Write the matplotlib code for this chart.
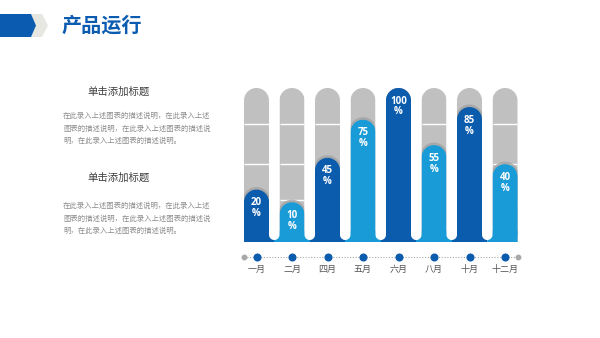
import numpy as np
import matplotlib
matplotlib.use("Agg")
import matplotlib.pyplot as plt
from matplotlib.path import Path
from matplotlib.patches import PathPatch, Polygon

plt.rcParams['font.family'] = ['Noto Sans CJK SC', 'DejaVu Sans']

# ---- data ----
months = ["一月", "二月", "四月", "五月", "六月", "八月", "十月", "十二月"]
values = [20, 10, 45, 75, 100, 55, 85, 40]
grid_levels = [72, 40, 12]

title = "产品运行"
sub_title = "单击添加标题"
body_lines = ["在此录入上述图表的描述说明，在此录入上述",
              "图表的描述说明，在此录入上述图表的描述说",
              "明，在此录入上述图表的描述说明。"]

# ---- style ----
DARK = "#0b5cad"
LIGHT = "#199bd7"
GRAY = "#c0c0c0"
SHADOW = "#a2a2a2"
TITLE_BLUE = "#0b5cb0"
TXT_GRAY = "#8c8c8c"

W, H = 600, 338
fig = plt.figure(figsize=(W / 100, H / 100), dpi=100)
fig.patch.set_facecolor("white")

# background axes in pixel units for header and side text
bg = fig.add_axes([0, 0, 1, 1])
bg.set_xlim(0, W)
bg.set_ylim(H, 0)
bg.axis("off")

bg.add_patch(Polygon([(27, 14), (42, 14), (48, 25.5), (42, 37), (27, 37)],
                     closed=True, facecolor="#e7e7e2", edgecolor="none"))
bg.add_patch(Polygon([(0, 14), (31, 14), (36, 25.5), (31, 37), (0, 37)],
                     closed=True, facecolor="#0b5cb0", edgecolor="none"))
bg.text(62, 25.5, title, fontsize=14.5, fontweight="bold", color=TITLE_BLUE,
        ha="left", va="center")

for ty, ly in [(91.5, [116, 128.5, 141]), (178, [206, 218.5, 231])]:
    bg.text(119, ty, sub_title, fontsize=7.5, color="#404040", ha="center", va="center")
    for yy, line in zip(ly, body_lines):
        bg.text(63, yy, line, fontsize=5.3, color=TXT_GRAY, ha="left", va="center")

# ---- chart axes ----
PX_X = 35.5          # pixels per category
PX_Y = 1.27          # pixels per percent
left_px, top_px, right_px, bot_px = 238.75, 80, 522.75, 280
zero_px = 215
ax = fig.add_axes([left_px / W, 1 - bot_px / H, (right_px - left_px) / W, (bot_px - top_px) / H])
ax.set_xlim(-0.5, len(months) - 0.5)
ax.set_ylim((zero_px - bot_px) / PX_Y, (zero_px - top_px) / PX_Y)
ax.axis("off")

n = len(values)
xs = np.arange(n)
rx = 25 / PX_X / 2
ry = rx * PX_X / PX_Y
base = (zero_px - 242) / PX_Y
strip_top = (zero_px - 231) / PX_Y
gap_bottom = (zero_px - 240) / PX_Y
gray_top = 100


def capsule(xc, top, bottom, rxx, ryy, n_arc=40):
    th = np.linspace(np.pi, 0, n_arc)
    pts = [(xc - rxx, bottom), (xc - rxx, top - ryy)]
    pts += list(zip(xc + rxx * np.cos(th), top - ryy + ryy * np.sin(th)))
    pts += [(xc + rxx, bottom), (xc - rxx, bottom)]
    codes = [Path.MOVETO] + [Path.LINETO] * (len(pts) - 2) + [Path.CLOSEPOLY]
    return Path(pts, codes)


def bottom_strip(x0, x1, y0, y1, r_left_px=0, r_right_px=0, n_arc=20):
    pts = [(x0, y1)]
    if r_left_px:
        rxl, ryl = r_left_px / PX_X, r_left_px / PX_Y
        th = np.linspace(np.pi, 1.5 * np.pi, n_arc)
        pts += list(zip(x0 + rxl + rxl * np.cos(th), y0 + ryl + ryl * np.sin(th)))
    else:
        pts.append((x0, y0))
    if r_right_px:
        rxr, ryr = r_right_px / PX_X, r_right_px / PX_Y
        th = np.linspace(1.5 * np.pi, 2 * np.pi, n_arc)
        pts += list(zip(x1 - rxr + rxr * np.cos(th), y0 + ryr + ryr * np.sin(th)))
    else:
        pts.append((x1, y0))
    pts += [(x1, y1), (x0, y1)]
    codes = [Path.MOVETO] + [Path.LINETO] * (len(pts) - 2) + [Path.CLOSEPOLY]
    return Path(pts, codes)


for i, (x, v) in enumerate(zip(xs, values)):
    color = DARK if i % 2 == 0 else LIGHT
    gray = PathPatch(capsule(x, gray_top, base, rx, ry), facecolor=GRAY,
                     edgecolor="none", zorder=1)
    ax.add_patch(gray)
    for g in grid_levels:
        ln, = ax.plot([x - rx, x + rx], [g, g], color="white", lw=1.0, zorder=2,
                      solid_capstyle="butt")
        ln.set_clip_path(gray)
    sh = PathPatch(capsule(x, v + 2.6 / PX_Y, base, rx + 1.2 / PX_X, ry + 1.2 / PX_Y),
                   facecolor=SHADOW, edgecolor="none", zorder=3, alpha=0.8)
    ax.add_patch(sh)
    sh.set_clip_path(gray)
    ax.add_patch(PathPatch(capsule(x, v, base, rx, ry), facecolor=color,
                           edgecolor="none", zorder=4))
    # widened foot of each bar
    x0 = x - rx if i == 0 else x - 0.5
    x1 = x + rx if i == n - 1 else x + 0.5
    ax.add_patch(PathPatch(bottom_strip(x0, x1, base, strip_top,
                                        r_left_px=9 if i == 0 else 0,
                                        r_right_px=9 if i == n - 1 else 0),
                           facecolor=color, edgecolor="none", zorder=4))
    # value label
    ax.annotate(f"{v}", (x, v), xytext=(0, -13), textcoords="offset pixels",
                ha="center", va="center", color="white", fontsize=7,
                fontweight="bold", family=["Open Sans", "DejaVu Sans"], zorder=6)
    ax.annotate("%", (x, v), xytext=(0, -24), textcoords="offset pixels",
                ha="center", va="center", color="white", fontsize=7,
                fontweight="bold", family=["Open Sans", "DejaVu Sans"], zorder=6)

# white rounded gaps between neighbouring bars
g_rx = (1 - 2 * rx) / 2
g_ry = g_rx * PX_X / PX_Y
for x in xs[:-1]:
    xc = x + 0.5
    th = np.linspace(np.pi, 2 * np.pi, 30)
    top = ax.get_ylim()[1]
    pts = [(xc - g_rx, top), (xc - g_rx, gap_bottom + g_ry)]
    pts += list(zip(xc + g_rx * np.cos(th), gap_bottom + g_ry + g_ry * np.sin(th)))
    pts += [(xc + g_rx, top), (xc - g_rx, top)]
    codes = [Path.MOVETO] + [Path.LINETO] * (len(pts) - 2) + [Path.CLOSEPOLY]
    ax.add_patch(PathPatch(Path(pts, codes), facecolor="white", edgecolor="none", zorder=5))

# timeline axis with markers and month labels
axis_y = (zero_px - 257) / PX_Y
label_y = (zero_px - 269) / PX_Y
ax.plot([xs[0] - rx, xs[-1] + rx], [axis_y, axis_y], color="#a8a8a8", lw=0.8,
        ls=(0, (1, 1.5)), zorder=2, clip_on=False)
ax.plot([xs[0] - rx, xs[-1] + rx], [axis_y, axis_y], "o", color="#a8a8a8",
        ms=3.2, zorder=3, clip_on=False)
ax.plot(xs, [axis_y] * n, "o", color=DARK, ms=4.8, zorder=3, clip_on=False)
for x, m in zip(xs, months):
    ax.text(x, label_y, m, ha="center", va="center", fontsize=6.5, color="#555555")

fig.savefig("out.png", dpi=100, facecolor="white")
